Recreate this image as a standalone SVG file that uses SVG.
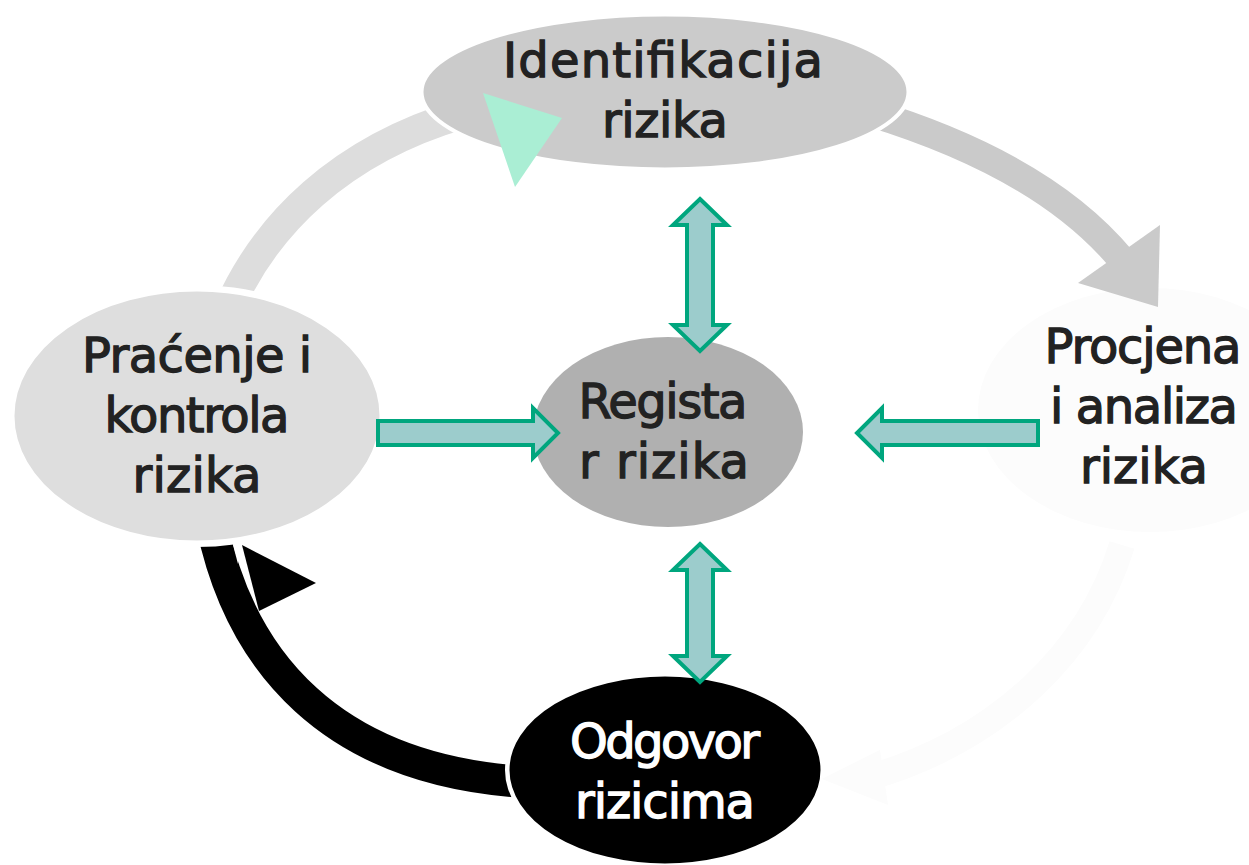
<svg xmlns="http://www.w3.org/2000/svg" width="1249" height="865" viewBox="0 0 1249 865">
<style>
.lbl{font-family:"DejaVu Sans","Liberation Sans",sans-serif;font-size:48px;fill:#222;stroke:#222;stroke-width:1.3px;text-anchor:middle}
.lblw{fill:#fff;stroke:#fff}
.node{stroke:#fff;stroke-width:3}
.garrow{fill:#9ccccc;stroke:#00a67e;stroke-width:4;stroke-linejoin:miter}
.arc{fill:none;stroke-linecap:butt}
</style>
<defs>
<clipPath id="outsideNodes">
<path clip-rule="evenodd" d="M0,0H1249V865H0Z M419,92 A246,80 0 1,0 911,92 A246,80 0 1,0 419,92 Z M8,416 A189,131 0 1,0 386,416 A189,131 0 1,0 8,416 Z M505,770 A160,98 0 1,0 825,770 A160,98 0 1,0 505,770 Z"/>
</clipPath>
</defs>
<rect width="1249" height="865" fill="#fff"/>

<g id="node-procjena">
<ellipse cx="1150" cy="410" rx="172" ry="122" fill="#fcfcfc"/>
<text class="lbl" x="1143" y="363" textLength="197">Procjena</text>
<text class="lbl" x="1144" y="423" textLength="188">i analiza</text>
<text class="lbl" x="1144" y="483" textLength="128">rizika</text>
</g>

<g id="node-identifikacija">
<ellipse class="node" cx="665" cy="92" rx="243" ry="77" fill="#cbcbcb"/>
<text class="lbl" x="663" y="77" textLength="320">Identifikacija</text>
<text class="lbl" x="665" y="137" textLength="126">rizika</text>
</g>

<g id="node-pracenje">
<ellipse class="node" cx="197" cy="416" rx="184" ry="126" fill="#dedede"/>
<text class="lbl" x="197" y="372" textLength="230">Praćenje i</text>
<text class="lbl" x="197" y="432" textLength="185">kontrola</text>
<text class="lbl" x="197" y="492" textLength="129">rizika</text>
</g>

<g id="node-registar">
<ellipse cx="668" cy="432" rx="135" ry="95" fill="#b0b0b0"/>
<text class="lbl" x="663" y="418" textLength="169">Regista</text>
<text class="lbl" x="664" y="478" textLength="170">r rizika</text>
</g>

<g id="node-odgovor">
<ellipse class="node" cx="665" cy="770" rx="157" ry="95" fill="#000"/>
<text class="lbl lblw" x="665" y="758" textLength="190">Odgovor</text>
<text class="lbl lblw" x="665" y="818" textLength="180">rizicima</text>
</g>

<g id="connectors">
<g clip-path="url(#outsideNodes)">
<path class="arc" d="M228,310 C265,225 340,150 462,114" stroke="#dddddd" stroke-width="30"/>
<path class="arc" d="M868,112 C960,140 1060,185 1122,260" stroke="#cacaca" stroke-width="28"/>
<path class="arc" d="M212,525 C240,660 330,770 525,782" stroke="#000" stroke-width="32"/>
<path class="arc" d="M1122,545 C1090,650 1000,740 868,778" stroke="#fcfcfc" stroke-width="26"/>
</g>
<polygon points="483,93 562,118 515,187" fill="#aaeed4"/>
<polygon points="1160,225 1078,283 1158,307" fill="#cacaca"/>
<polygon points="242,545 316,583 259,611" fill="#000"/>
<polygon points="233,545 242,545 238,564" fill="#fff"/>
<polygon points="880,750 822,779 888,805" fill="#fcfcfc"/>
<polygon class="garrow" points="700,199 727,225 713,225 713,325 727,325 700,351 673,325 687,325 687,225 673,225"/>
<polygon class="garrow" points="700,544 727,570 713,570 713,656 727,656 700,682 673,656 687,656 687,570 673,570"/>
<polygon class="garrow" points="378,421 533,421 533,408 558,433 533,458 533,445 378,445"/>
<polygon class="garrow" points="1038,421 882,421 882,408 857,433 882,458 882,445 1038,445"/>
</g>
</svg>
